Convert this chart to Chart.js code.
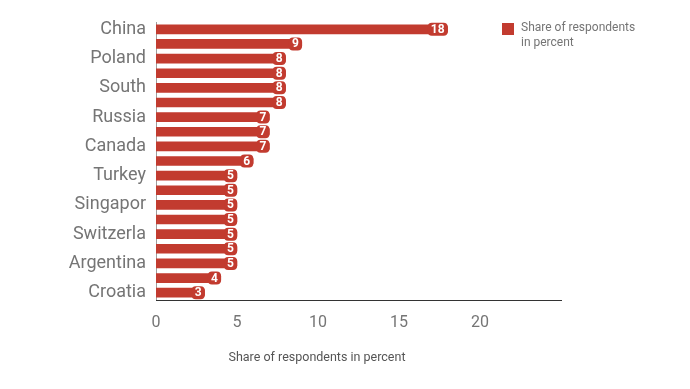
<!DOCTYPE html>
<html>
<head>
<meta charset="utf-8">
<script src="https://cdn.jsdelivr.net/npm/chart.js@4/dist/chart.umd.min.js"></script>
<style>
  html, body { margin: 0; padding: 0; background: #fff; }
  #wrap { position: relative; width: 690px; height: 389px; }
  #legend { position: absolute; left: 502px; top: 20px; font: 12px Roboto, sans-serif; color: #757575; line-height: 15px; }
  #legend .box { position: absolute; left: 0; top: 3px; width: 12px; height: 12px; background: #c23b2f; }
  #legend .txt { margin-left: 19px; }
</style>
</head>
<body>
<div id="wrap">
  <canvas id="chart" width="690" height="389"></canvas>
  <div id="legend"><span class="box"></span><div class="txt">Share of respondents<br>in percent</div></div>
</div>
<script>
// ── Data ─────────────────────────────────────────────────────
// only every other country name is readable in the picture
const countries = ['China', '', 'Poland', '', 'South', '', 'Russia', '', 'Canada', '',
                   'Turkey', '', 'Singapor', '', 'Switzerla', '', 'Argentina', '', 'Croatia'];
const shares    = [18, 9, 8, 8, 8, 8, 7, 7, 7, 6, 5, 5, 5, 5, 5, 5, 5, 4, 3];
const xTicks    = [0, 5, 10, 15, 20];

const RED  = '#c23b2f';
const GREY = '#757575';

// ── Value labels on bar ends ─────────────────────────────────
const valueLabels = {
  id: 'valueLabels',
  afterDatasetsDraw(chart) {
    const ctx = chart.ctx;
    const meta = chart.getDatasetMeta(0);
    ctx.save();
    ctx.font = 'bold 12px Roboto, sans-serif';
    ctx.textBaseline = 'middle';
    ctx.textAlign = 'center';
    meta.data.forEach((bar, i) => {
      const txt = String(shares[i]);
      const w = ctx.measureText(txt).width + 6;
      const x1 = bar.x, x0 = x1 - w, h = 13;
      ctx.fillStyle = RED;
      ctx.beginPath();
      ctx.roundRect(x0, bar.y - h / 2, w, h, 4);
      ctx.fill();
      ctx.fillStyle = '#fff';
      ctx.fillText(txt, x0 + w / 2, bar.y + 0.5);
    });
    ctx.restore();
  }
};

// ── Axis title ───────────────────────────────────────────────
const axisTitle = {
  id: 'axisTitle',
  afterDraw(chart) {
    const ctx = chart.ctx;
    ctx.save();
    ctx.font = '12.5px Roboto, sans-serif';
    ctx.fillStyle = '#555';
    ctx.textAlign = 'center';
    ctx.textBaseline = 'middle';
    ctx.fillText('Share of respondents in percent', chart.chartArea.left + 161, 358);
    ctx.restore();
  }
};

new Chart(document.getElementById('chart'), {
  type: 'bar',
  data: {
    labels: countries,
    datasets: [{
      label: 'Share of respondents in percent',
      data: shares,
      backgroundColor: RED,
      barThickness: 9,
      borderRadius: 3,
      borderSkipped: 'start'
    }]
  },
  options: {
    indexAxis: 'y',
    responsive: false,
    animation: false,
    layout: { padding: { top: 22, right: 129, left: 0, bottom: 0 } },
    plugins: { legend: { display: false }, tooltip: { enabled: false } },
    scales: {
      y: {
        grid: { display: false, drawTicks: false },
        border: { display: true, color: '#9e9e9e', width: 1 },
        ticks: { autoSkip: false, color: GREY, font: { family: 'Roboto', size: 18 }, padding: 10 },
        afterFit(scale) { scale.width = 156; }
      },
      x: {
        min: 0,
        max: 25,
        grid: { display: false, drawTicks: false },
        border: { display: true, color: '#333', width: 1 },
        afterBuildTicks(scale) { scale.ticks = xTicks.map(v => ({ value: v })); },
        ticks: { color: GREY, font: { family: 'Roboto', size: 16 }, padding: 13 },
        afterFit(scale) { scale.height = 89; }
      }
    }
  },
  plugins: [valueLabels, axisTitle]
});
</script>
</body>
</html>
